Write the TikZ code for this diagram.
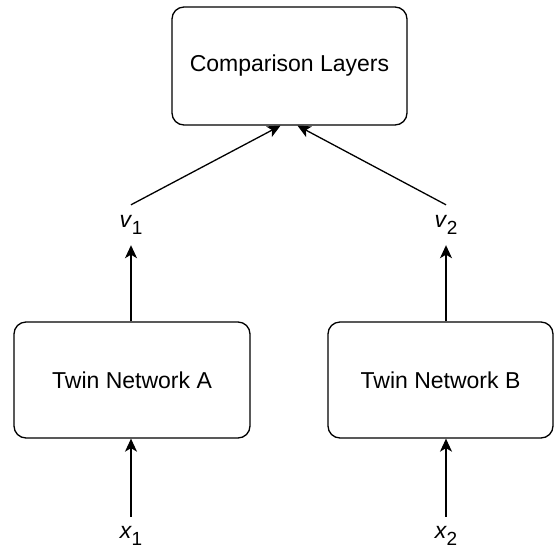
\documentclass[tikz,border=0pt]{standalone}
\usepackage{fontspec}
\setmainfont{Liberation Sans}
\usetikzlibrary{arrows.meta,calc}
% lowered, smaller index for the vector labels
\newcommand\idx[1]{\kern-0.5pt\raisebox{-0.32em}{\fontsize{19}{20}\selectfont #1}}
\begin{document}
\begin{tikzpicture}[x=1pt,y=-1pt,
  block/.style={draw, line width=1.3pt, rounded corners=12pt,
    font=\fontsize{23}{27}\selectfont, inner sep=0pt},
  lbl/.style={font=\fontsize{23}{27}\selectfont, inner sep=0pt},
  link/.style={line width=1.3pt, -{Stealth[length=13pt,width=12pt,inset=3.5pt]}}]
\useasboundingbox (0,0) rectangle (555,550);

% processing blocks
\node[block, minimum width=235pt, minimum height=118pt] (comp) at (289.5,66) {Comparison Layers};
\node[block, minimum width=236pt, minimum height=116pt] (neta) at (132,380) {Twin Network A};
\node[block, minimum width=225pt, minimum height=116pt] (netb) at (440.5,380) {Twin Network B};

% inputs and embeddings
\node[lbl, minimum height=40pt] (v1) at (131,225) {\textit{v}\idx{1}};
\node[lbl, minimum height=40pt] (v2) at (446,225) {\textit{v}\idx{2}};
\node[lbl, minimum height=38pt] (x1) at (131,536) {\textit{x}\idx{1}};
\node[lbl, minimum height=38pt] (x2) at (446,536) {\textit{x}\idx{2}};

% connectors
\draw[link] (x1.north) -- (x1.north |- neta.south);
\draw[link] (x2.north) -- (x2.north |- netb.south);
\draw[link] (v1.south |- neta.north) -- (v1.south);
\draw[link] (v2.south |- netb.north) -- (v2.south);
\draw[link] (v1.north) -- ($(comp.south)+(-9,0)$);
\draw[link] (v2.north) -- ($(comp.south)+(8,0)$);
\end{tikzpicture}
\end{document}
